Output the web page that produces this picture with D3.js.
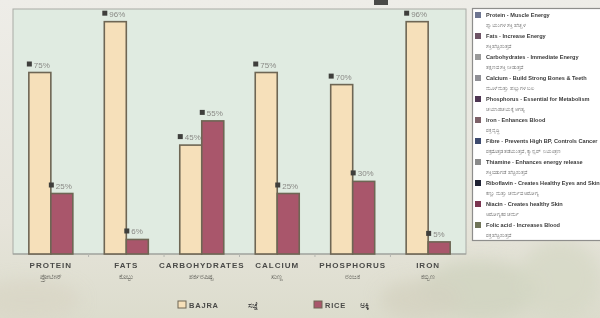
<!DOCTYPE html>
<html>
<head>
<meta charset="utf-8">
<script src="https://cdn.jsdelivr.net/npm/d3@7"></script>
<style>
  html, body { margin: 0; padding: 0; background: #e9e7e0; }
  svg { display: block; }
</style>
</head>
<body>
<div id="chart"></div>
<script>
// data
const nutrients = ["PROTEIN", "FATS", "CARBOHYDRATES", "CALCIUM", "PHOSPHORUS", "IRON"];
const nutrientsLocal = ["ಪ್ರೋಟೀನ್", "ಕೊಬ್ಬು", "ಶರ್ಕರಪಿಷ್ಟ", "ಸುಣ್ಣ", "ರಂಜಕ", "ಕಬ್ಬಿಣ"];
const bajra = [75, 96, 45, 75, 70, 96];
const rice = [25, 6, 55, 25, 30, 5];
const seriesNames = ["BAJRA", "RICE"];
const seriesLocal = ["ಸಜ್ಜೆ", "ಅಕ್ಕಿ"];
const notes = [
  "Protein - Muscle Energy",
  "Fats - Increase Energy",
  "Carbohydrates - Immediate Energy",
  "Calcium - Build Strong Bones & Teeth",
  "Phosphorus - Essential for Metabolism",
  "Iron - Enhances Blood",
  "Fibre - Prevents High BP, Controls Cancer",
  "Thiamine - Enhances energy release",
  "Riboflavin - Creates Healthy Eyes and Skin",
  "Niacin - Creates healthy Skin",
  "Folic acid - Increases Blood"
];
const notesLocal = [
  "ಸ್ನಾಯುಗಳ ಶಕ್ತಿ ಹೆಚ್ಚಳ",
  "ಶಕ್ತಿ ಹೆಚ್ಚಿಸುತ್ತದೆ",
  "ತಕ್ಷಣದ ಶಕ್ತಿ ನೀಡುತ್ತದೆ",
  "ಮೂಳೆ ಮತ್ತು ಹಲ್ಲುಗಳ ಬಲ",
  "ಚಯಾಪಚಯಕ್ಕೆ ಅಗತ್ಯ",
  "ರಕ್ತ ವೃದ್ಧಿ",
  "ರಕ್ತದೊತ್ತಡ ತಡೆಯುತ್ತದೆ, ಕ್ಯಾನ್ಸರ್ ನಿಯಂತ್ರಣ",
  "ಶಕ್ತಿ ಬಿಡುಗಡೆ ಹೆಚ್ಚಿಸುತ್ತದೆ",
  "ಕಣ್ಣು ಮತ್ತು ಚರ್ಮದ ಆರೋಗ್ಯ",
  "ಆರೋಗ್ಯಕರ ಚರ್ಮ",
  "ರಕ್ತ ಹೆಚ್ಚಿಸುತ್ತದೆ"
];
const noteColors = ["#6d7590", "#6e5466", "#9a9a9a", "#8f8f95", "#4e3552", "#7d6168", "#3d4a6e", "#8a8a8a", "#1f2233", "#7a3550", "#6f7358"];

const W = 600, H = 318;
const plot = { left: 13, right: 466, top: 9, bottom: 254 };
const bajraFill = "#f6e0ba", riceFill = "#a9566b", barStroke = "#6e6654";

const svg = d3.select("#chart").append("svg")
  .attr("width", W).attr("height", H)
  .style("font-family", "'Liberation Sans', Arial, sans-serif");

// backdrop, the photo behind the chart
const defs = svg.append("defs");
const bg = defs.append("linearGradient").attr("id", "bg").attr("x1", 0).attr("y1", 0).attr("x2", 0).attr("y2", 1);
bg.append("stop").attr("offset", "0%").attr("stop-color", "#eeede8");
bg.append("stop").attr("offset", "70%").attr("stop-color", "#e6e4da");
bg.append("stop").attr("offset", "100%").attr("stop-color", "#dcdccd");
svg.append("rect").attr("width", W).attr("height", H).attr("fill", "url(#bg)");
const blur = defs.append("filter").attr("id", "blur");
blur.append("feGaussianBlur").attr("stdDeviation", 8);
svg.append("g").attr("filter", "url(#blur)").selectAll("ellipse")
  .data([[480, 290, 60, 30, "#cfd3bf"], [560, 280, 40, 40, "#d6d8c6"], [30, 300, 50, 20, "#d9d6c6"], [420, 300, 40, 20, "#d4d2c0"]])
  .join("ellipse")
  .attr("cx", d => d[0]).attr("cy", d => d[1]).attr("rx", d => d[2]).attr("ry", d => d[3])
  .attr("fill", d => d[4]).attr("opacity", 0.8);
svg.append("rect").attr("x", 374).attr("y", 0).attr("width", 14).attr("height", 5).attr("fill", "#4a4a48");

// plot area
svg.append("rect")
  .attr("x", plot.left).attr("y", plot.top)
  .attr("width", plot.right - plot.left).attr("height", plot.bottom - plot.top)
  .attr("fill", "#e0ebe1").attr("stroke", "#a9aba6").attr("stroke-width", 1);

const x0 = d3.scaleBand().domain(nutrients).range([plot.left, plot.right])
  .paddingInner(0.417).paddingOuter(0.21);
const x1 = d3.scaleBand().domain(seriesNames).range([0, x0.bandwidth()]);
const y = d3.scaleLinear().domain([0, 100]).range([plot.bottom, 12]);
const color = d3.scaleOrdinal().domain(seriesNames).range([bajraFill, riceFill]);

const rows = nutrients.map((n, i) => ({ nutrient: n, local: nutrientsLocal[i], values: [
  { key: "BAJRA", value: bajra[i] }, { key: "RICE", value: rice[i] }] }));

// x axis
svg.append("line")
  .attr("x1", plot.left).attr("x2", plot.right)
  .attr("y1", plot.bottom).attr("y2", plot.bottom)
  .attr("stroke", "#9b9d98");
svg.selectAll("line.tick")
  .data(nutrients.slice(1))
  .join("line")
  .attr("class", "tick")
  .attr("x1", d => x0(d) - x0.step() * x0.paddingInner() / 2)
  .attr("x2", d => x0(d) - x0.step() * x0.paddingInner() / 2)
  .attr("y1", plot.bottom).attr("y2", plot.bottom + 3)
  .attr("stroke", "#b5b6b1");

const groups = svg.selectAll("g.group")
  .data(rows)
  .join("g")
  .attr("class", "group")
  .attr("transform", d => `translate(${x0(d.nutrient)},0)`);

groups.selectAll("rect.bar")
  .data(d => d.values)
  .join("rect")
  .attr("class", "bar")
  .attr("x", d => x1(d.key))
  .attr("y", d => y(d.value))
  .attr("width", x1.bandwidth())
  .attr("height", d => y(0) - y(d.value))
  .attr("fill", d => color(d.key))
  .attr("stroke", barStroke)
  .attr("stroke-width", 1.6);

// value labels
groups.selectAll("rect.marker")
  .data(d => d.values)
  .join("rect")
  .attr("class", "marker")
  .attr("x", d => x1(d.key) - 2)
  .attr("y", d => y(d.value) - 11)
  .attr("width", 5).attr("height", 5)
  .attr("fill", "#3f3f3c");
groups.selectAll("text.value")
  .data(d => d.values)
  .join("text")
  .attr("class", "value")
  .attr("x", d => x1(d.key) + 5)
  .attr("y", d => y(d.value) - 5)
  .attr("font-size", 8)
  .attr("fill", "#8a8a86")
  .text(d => d.value + "%");

// category labels
groups.append("text")
  .attr("x", x0.bandwidth() / 2).attr("y", 268)
  .attr("text-anchor", "middle")
  .attr("font-size", 8).attr("font-weight", "bold").attr("fill", "#4a4a48")
  .attr("letter-spacing", 1)
  .text(d => d.nutrient);
groups.append("text")
  .attr("x", x0.bandwidth() / 2).attr("y", 279)
  .attr("text-anchor", "middle")
  .attr("font-size", 7).attr("fill", "#55554f")
  .text(d => d.local);

// bottom legend
const legendPos = [178, 314];
const bottomLegend = svg.selectAll("g.blegend")
  .data(seriesNames)
  .join("g")
  .attr("class", "blegend")
  .attr("transform", (d, i) => `translate(${legendPos[i]},307)`);
bottomLegend.append("rect")
  .attr("x", 0).attr("y", -6).attr("width", 8).attr("height", 7)
  .attr("fill", d => color(d)).attr("stroke", "#6e6654");
bottomLegend.append("text")
  .attr("x", 11).attr("y", 1)
  .attr("font-size", 7.5).attr("font-weight", "bold").attr("fill", "#4a4a48")
  .attr("letter-spacing", 0.8)
  .text(d => d);
bottomLegend.append("text")
  .attr("x", (d, i) => i === 0 ? 70 : 46).attr("y", 1)
  .attr("font-size", 7.5).attr("fill", "#4a4a48")
  .text((d, i) => seriesLocal[i]);

// side legend with the notes
svg.append("rect")
  .attr("x", 472.5).attr("y", 8.5).attr("width", 140).attr("height", 232)
  .attr("fill", "#ffffff").attr("stroke", "#8e8e8c").attr("stroke-width", 1.2);
const noteItems = svg.selectAll("g.note")
  .data(notes)
  .join("g")
  .attr("class", "note")
  .attr("transform", (d, i) => `translate(475,${15 + i * 21})`);
noteItems.append("rect")
  .attr("x", 0).attr("y", -3).attr("width", 6).attr("height", 6)
  .attr("fill", (d, i) => noteColors[i]);
noteItems.append("text")
  .attr("x", 11).attr("y", 2)
  .attr("font-size", 5.6).attr("font-weight", "bold").attr("fill", "#3a3a3a")
  .text(d => d);
noteItems.append("text")
  .attr("x", 11).attr("y", 12)
  .attr("font-size", 5.2).attr("fill", "#6a6a6a")
  .text((d, i) => notesLocal[i]);
</script>
</body>
</html>
